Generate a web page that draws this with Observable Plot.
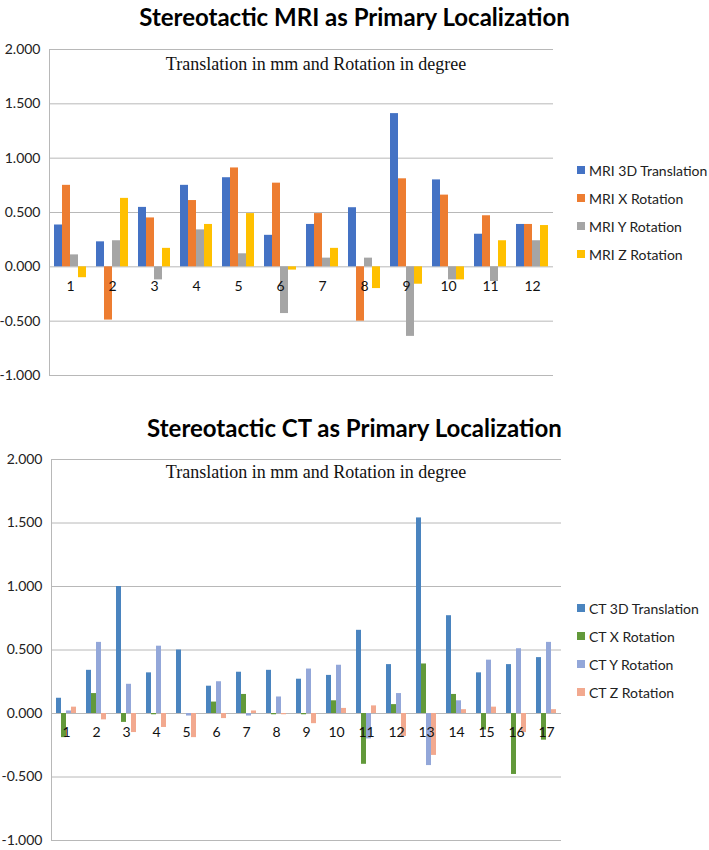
<!DOCTYPE html>
<html><head><meta charset="utf-8">
<script src="https://cdn.jsdelivr.net/npm/d3@7"></script>
<script src="https://cdn.jsdelivr.net/npm/@observablehq/plot@0.6"></script>
<style>
html,body{margin:0;padding:0;background:#fff}
body{width:709px;height:850px;position:relative;overflow:hidden;font-family:Lato,"Open Sans",sans-serif;color:#111}
.abs{position:absolute}
.title{font-weight:700;font-size:24px;width:709px;text-align:center;left:0;line-height:30px;color:#000}
.sub{font-family:"Liberation Serif",serif;font-size:18px;transform:translate(-50%,-50%);white-space:nowrap;color:#111}
.item{display:flex;align-items:center;height:28px;font-size:14px;white-space:nowrap;color:#222}
.sw{width:8px;height:8px;margin-right:4px}
.chart{width:709px}
</style></head><body>
<div class="abs title" style="top:2px">Stereotactic MRI as Primary Localization</div>
<div class="abs title" style="top:413px">Stereotactic CT as Primary Localization</div>
<div id="top" class="abs chart" style="left:0;top:40px"></div>
<div id="bottom" class="abs chart" style="left:0;top:450px"></div>
<div class="abs sub" style="left:316px;top:64px">Translation in mm and Rotation in degree</div>
<div class="abs sub" style="left:316px;top:472px">Translation in mm and Rotation in degree</div>
<div id="legTop" class="abs" style="left:577px;top:156px"></div>
<div id="legBottom" class="abs" style="left:577px;top:594px"></div>
<script>
const yTicks = [-1, -0.5, 0, 0.5, 1, 1.5, 2];

const mriGroups = [1, 2, 3, 4, 5, 6, 7, 8, 9, 10, 11, 12];
const mriSeries = ["MRI 3D Translation", "MRI X Rotation", "MRI Y Rotation", "MRI Z Rotation"];
const mriColors = ["#4472C4", "#ED7D31", "#A5A5A5", "#FFC000"];
const mri3D = [0.385, 0.23, 0.547, 0.75, 0.82, 0.29, 0.39, 0.544, 1.41, 0.80, 0.30, 0.39];
const mriX  = [0.75, -0.49, 0.45, 0.61, 0.91, 0.77, 0.49, -0.50, 0.81, 0.66, 0.47, 0.39];
const mriY  = [0.11, 0.24, -0.12, 0.34, 0.12, -0.43, 0.08, 0.08, -0.64, -0.12, -0.135, 0.24];
const mriZ  = [-0.10, 0.63, 0.17, 0.39, 0.49, -0.03, 0.17, -0.20, -0.16, -0.12, 0.24, 0.38];

const ctGroups = [1, 2, 3, 4, 5, 6, 7, 8, 9, 10, 11, 12, 13, 14, 15, 16, 17];
const ctSeries = ["CT 3D Translation", "CT X Rotation", "CT Y Rotation", "CT Z Rotation"];
const ctColors = ["#4A84BF", "#62993A", "#93A7D9", "#F2A98F"];
const ct3D = [0.12, 0.34, 1.00, 0.32, 0.50, 0.215, 0.325, 0.34, 0.27, 0.30, 0.655, 0.385, 1.54, 0.77, 0.32, 0.385, 0.44];
const ctX  = [-0.19, 0.157, -0.07, -0.01, 0, 0.09, 0.15, -0.01, -0.01, 0.10, -0.40, 0.07, 0.39, 0.15, -0.13, -0.48, -0.21];
const ctY  = [0.02, 0.56, 0.23, 0.53, -0.02, 0.25, -0.02, 0.13, 0.35, 0.38, -0.20, 0.157, -0.41, 0.10, 0.42, 0.51, 0.56];
const ctZ  = [0.05, -0.05, -0.15, -0.11, -0.19, -0.04, 0.02, -0.01, -0.08, 0.04, 0.06, -0.18, -0.33, 0.03, 0.05, -0.15, 0.03];

function chart({groups, series, values, colors, height, marginTop, marginBottom, marginRight, labelDy}) {
  const data = groups.flatMap((g, i) => series.map((s, k) => ({group: g, series: s, value: values[k][i]})));
  return Plot.plot({
    width: 709, height, marginLeft: 49, marginRight, marginTop, marginBottom,
    fx: {domain: groups, padding: 0, axis: null},
    x: {domain: series, paddingInner: 0, paddingOuter: 0.53, axis: null},
    y: {domain: [-1, 2], axis: null},
    color: {domain: series, range: colors},
    style: {fontFamily: "Lato, sans-serif", fontSize: "14px", color: "#222", background: "transparent", overflow: "visible"},
    marks: [
      Plot.gridY(yTicks, {stroke: "#b8b8b8", strokeOpacity: 1}),
      Plot.axisY(yTicks, {tickSize: 0, tickPadding: 9, label: null, tickFormat: d => d.toFixed(3), fontSize: 14, fill: "#222"}),
      Plot.frame({anchor: "left", fx: () => groups[0], stroke: "#b8b8b8"}),
      Plot.barY(data, {fx: "group", x: "series", y: "value", fill: "series"}),
      Plot.text(groups, {fx: d => d, y: () => 0, text: d => String(d), dy: labelDy, fontSize: 14, fill: "#111"})
    ]
  });
}

const topChart = chart({groups: mriGroups, series: mriSeries, values: [mri3D, mriX, mriY, mriZ], colors: mriColors,
  height: 360, marginTop: 9, marginBottom: 25, marginRight: 156, labelDy: 20});
const bottomChart = chart({groups: ctGroups, series: ctSeries, values: [ct3D, ctX, ctY, ctZ], colors: ctColors,
  height: 400, marginTop: 9, marginBottom: 10, marginRight: 146, labelDy: 19});
document.getElementById("top").appendChild(topChart);
document.getElementById("bottom").appendChild(bottomChart);

function legend(el, series, colors) {
  const root = document.getElementById(el);
  series.forEach((s, i) => {
    const item = document.createElement("div");
    item.className = "item";
    const sw = document.createElement("span");
    sw.className = "sw";
    sw.style.background = colors[i];
    item.appendChild(sw);
    item.appendChild(document.createTextNode(s));
    root.appendChild(item);
  });
}
legend("legTop", mriSeries, mriColors);
legend("legBottom", ctSeries, ctColors);
</script>
</body></html>
